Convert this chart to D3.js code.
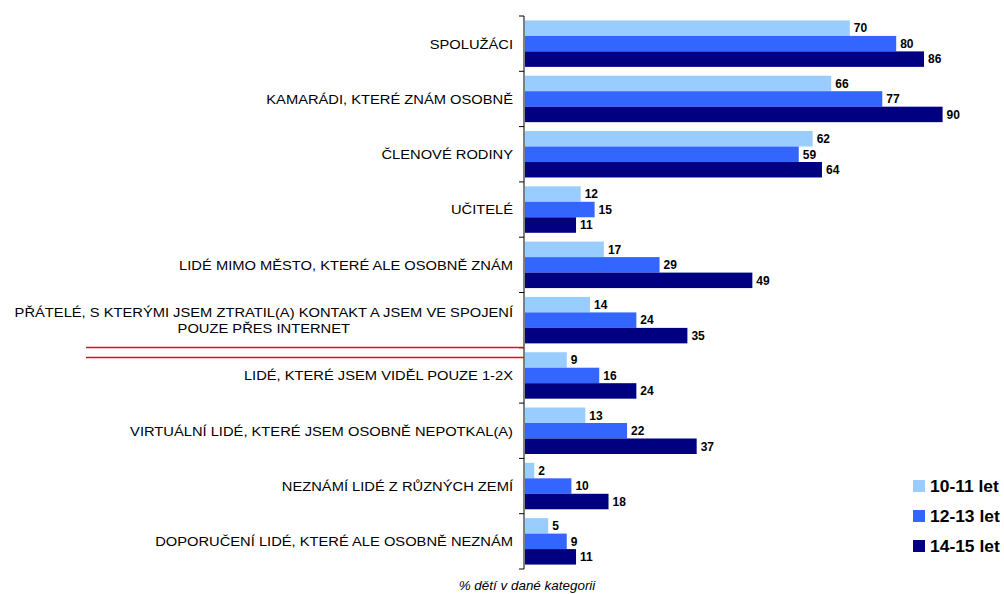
<!DOCTYPE html>
<html>
<head>
<meta charset="utf-8">
<script src="https://cdn.jsdelivr.net/npm/d3@7"></script>
<style>
  body { margin: 0; background: #fff; }
  svg { font-family: "Liberation Sans", Arial, sans-serif; }
</style>
</head>
<body>
<div id="chart"></div>
<script>
var categories = [
  ["SPOLUŽÁCI"],
  ["KAMARÁDI, KTERÉ ZNÁM OSOBNĚ"],
  ["ČLENOVÉ RODINY"],
  ["UČITELÉ"],
  ["LIDÉ MIMO MĚSTO, KTERÉ ALE OSOBNĚ ZNÁM"],
  ["PŘÁTELÉ, S KTERÝMI JSEM ZTRATIL(A) KONTAKT A JSEM VE SPOJENÍ", "POUZE PŘES INTERNET"],
  ["LIDÉ, KTERÉ JSEM VIDĚL POUZE 1-2X"],
  ["VIRTUÁLNÍ LIDÉ, KTERÉ JSEM OSOBNĚ NEPOTKAL(A)"],
  ["NEZNÁMÍ LIDÉ Z RŮZNÝCH ZEMÍ"],
  ["DOPORUČENÍ LIDÉ, KTERÉ ALE OSOBNĚ NEZNÁM"]
];
var seriesNames = ["10-11 let", "12-13 let", "14-15 let"];
var age1011 = [70, 66, 62, 12, 17, 14, 9, 13, 2, 5];
var age1213 = [80, 77, 59, 15, 29, 24, 16, 22, 10, 9];
var age1415 = [86, 90, 64, 11, 49, 35, 24, 37, 18, 11];
var caption = "% dětí v dané kategorii";

var colors = ["#99CCFF", "#3366FF", "#000080"];
var seriesValues = [age1011, age1213, age1415];

var width = 1004, height = 594;
var axisX = 524, plotTop = 16, plotBottom = 569;
var stretch = 1.09; // the original text looks a bit wider than Arial

var svg = d3.select("#chart").append("svg")
    .attr("width", width).attr("height", height);

var x = d3.scaleLinear().domain([0, 100]).range([axisX, 988]);
var idx = d3.range(categories.length);
var y = d3.scaleBand().domain(idx).range([plotTop, plotBottom]).paddingInner(0.16).paddingOuter(0.08);
var ySub = d3.scaleBand().domain(d3.range(3)).range([0, y.bandwidth()]);
var band = (plotBottom - plotTop) / categories.length;

// bars
var groups = svg.selectAll("g.cat")
    .data(idx).enter().append("g")
    .attr("class", "cat")
    .attr("transform", function(i) { return "translate(0," + y(i) + ")"; });

groups.selectAll("rect")
    .data(function(i) { return seriesValues.map(function(s, k) { return {k: k, v: s[i]}; }); })
    .enter().append("rect")
    .attr("x", x(0) + 1)
    .attr("y", function(d) { return ySub(d.k); })
    .attr("width", function(d) { return x(d.v) - x(0); })
    .attr("height", ySub.bandwidth())
    .attr("fill", function(d) { return colors[d.k]; });

groups.selectAll("text.val")
    .data(function(i) { return seriesValues.map(function(s, k) { return {k: k, v: s[i]}; }); })
    .enter().append("text")
    .attr("class", "val")
    .attr("x", function(d) { return x(d.v) + 5; })
    .attr("y", function(d) { return ySub(d.k) + ySub.bandwidth() / 2; })
    .attr("dy", "0.36em")
    .attr("font-size", "12px")
    .attr("font-weight", "bold")
    .attr("fill", "#000")
    .text(function(d) { return d.v; });

// axis line + ticks at band boundaries
svg.append("line")
    .attr("x1", axisX).attr("x2", axisX)
    .attr("y1", plotTop).attr("y2", plotBottom)
    .attr("stroke", "#000").attr("stroke-width", 1);
svg.selectAll("line.tick")
    .data(d3.range(categories.length + 1)).enter().append("line")
    .attr("class", "tick")
    .attr("x1", axisX - 5).attr("x2", axisX)
    .attr("y1", function(i) { return plotTop + i * band; })
    .attr("y2", function(i) { return plotTop + i * band; })
    .attr("stroke", "#000");

// category labels
var labels = svg.selectAll("g.lab")
    .data(idx).enter().append("g")
    .attr("class", "lab")
    .attr("transform", function(i) {
      return "translate(513," + (plotTop + (i + 0.5) * band) + ") scale(" + stretch + ",1)";
    })
    .append("text")
    .attr("font-size", "13.5px")
    .attr("fill", "#000");
labels.each(function(i) {
  var lines = categories[i];
  var t = d3.select(this);
  if (lines.length === 1) {
    t.attr("dy", "0.36em").attr("text-anchor", "end").text(lines[0]);
  } else {
    // centred block, right-aligned to the axis
    t.attr("text-anchor", "middle");
    var tmp = t.append("tspan").text(lines[0]);
    var w = tmp.node().getComputedTextLength();
    tmp.remove();
    lines.forEach(function(l, j) {
      t.append("tspan").attr("x", -w / 2)
        .attr("y", (j - (lines.length - 1) / 2) * 16)
        .attr("dy", "0.36em").text(l);
    });
  }
});

// red separator lines
svg.selectAll("line.sep")
    .data([347.5, 357.5]).enter().append("line")
    .attr("class", "sep")
    .attr("x1", 86).attr("x2", axisX)
    .attr("y1", function(d) { return d; }).attr("y2", function(d) { return d; })
    .attr("stroke", "#FF0000").attr("stroke-width", 1.5);

// legend
var legend = svg.selectAll("g.leg")
    .data(seriesNames).enter().append("g")
    .attr("class", "leg")
    .attr("transform", function(d, k) { return "translate(913," + (480 + k * 30) + ")"; });
legend.append("rect")
    .attr("width", 12).attr("height", 12)
    .attr("fill", function(d, k) { return colors[k]; });
legend.append("text")
    .attr("transform", "translate(17,6) scale(" + stretch + ",1)")
    .attr("dy", "0.36em")
    .attr("font-size", "16px").attr("font-weight", "bold")
    .text(function(d) { return d; });

// caption
svg.append("text")
    .attr("transform", "translate(527,590) scale(1.12,1)")
    .attr("text-anchor", "middle")
    .attr("font-size", "12px").attr("font-style", "italic")
    .text(caption);
</script>
</body>
</html>
